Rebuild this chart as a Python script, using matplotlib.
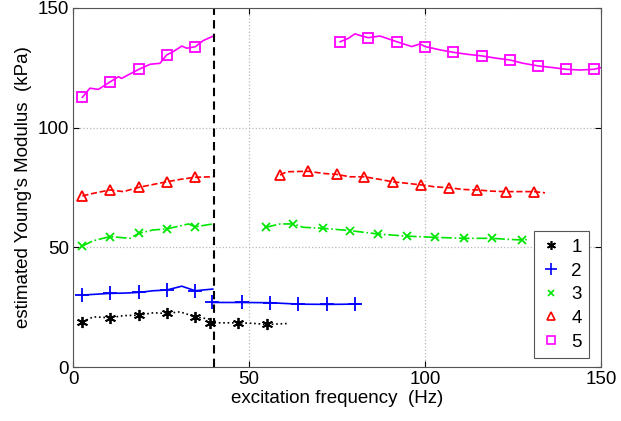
import matplotlib
matplotlib.use('Agg')
import matplotlib.pyplot as plt
from matplotlib.lines import Line2D

plt.rcParams['font.family'] = ['Liberation Sans', 'DejaVu Sans']

# measured modulus vs excitation frequency, two runs each (below / above 40 Hz)
f1a = [2.65, 5.8, 10.5, 14.3, 18.7, 22.8, 26.6, 30.4, 34.7, 39.4]
e1a = [18.9, 21.0, 20.6, 21.5, 21.7, 22.7, 22.4, 23.1, 21.0, 19.9]
m1a = [0, 2, 4, 6, 8]
f1b = [38.9, 43.0, 47.0, 51.0, 55.0, 60.7]
e1b = [18.5, 18.5, 18.5, 18.3, 17.8, 18.2]
m1b = [0, 2, 4]

f2a = [2.65, 10.5, 14.3, 18.7, 22.8, 26.6, 30.9, 34.7, 39.7]
e2a = [30.1, 30.8, 30.9, 31.2, 31.9, 32.2, 33.8, 31.9, 32.6]
m2a = [0, 1, 3, 5, 7]
f2b = [39.4, 47.9, 56.0, 64.0, 72.1, 80.1, 81.5]
e2b = [27.0, 27.0, 26.9, 26.3, 26.2, 26.3, 26.3]
m2b = [0, 1, 2, 3, 4, 5]

f3a = [2.65, 5.8, 10.5, 16.2, 18.7, 22.8, 26.6, 32.8, 34.7, 39.7]
e3a = [50.6, 52.8, 54.5, 53.8, 55.9, 57.3, 57.7, 59.8, 58.6, 59.8]
m3a = [0, 2, 4, 6, 8]
f3b = [54.8, 58.8, 62.6, 65.4, 70.9, 78.7, 86.7, 94.8, 102.8, 111.2, 119.0, 123.2, 127.5, 128.9]
e3b = [58.4, 59.8, 59.8, 58.4, 58.0, 57.0, 55.6, 54.7, 54.2, 53.8, 53.8, 53.4, 53.1, 53.3]
m3b = [0, 2, 4, 5, 6, 7, 8, 9, 10, 12]

f4a = [2.65, 5.8, 10.5, 14.3, 18.7, 22.8, 26.6, 30.4, 34.7, 39.7]
e4a = [71.5, 72.6, 74.0, 73.3, 75.1, 76.3, 77.4, 78.4, 79.3, 79.5]
m4a = [0, 2, 4, 6, 8]
f4b = [58.8, 60.7, 66.8, 71.1, 74.9, 78.7, 82.8, 87.2, 90.8, 94.8, 98.9, 102.8, 106.9, 110.9,
       114.9, 118.9, 122.9, 127.0, 131.0, 134.1]
e4b = [80.2, 81.6, 81.8, 80.9, 80.5, 79.5, 79.5, 78.4, 77.4, 76.8, 76.1, 75.3, 74.9, 74.2,
       74.0, 73.5, 73.3, 73.3, 73.3, 72.8]
m4b = [0, 2, 4, 6, 8, 10, 12, 14, 16, 18]

f5a = [2.65, 4.8, 7.2, 10.5, 12.9, 13.8, 18.7, 21.9, 24.7, 26.6, 28.5, 30.9, 32.3, 34.7, 37.0, 39.9]
e5a = [112.7, 116.5, 116.0, 119.1, 121.3, 120.6, 124.4, 126.5, 126.9, 130.4, 131.8, 134.1,
       133.2, 133.8, 136.4, 138.3]
m5a = [0, 3, 6, 9, 13]
f5b = [75.9, 78.2, 80.1, 82.0, 83.9, 87.2, 92.0, 96.2, 98.6, 100.0, 104.3, 108.0, 111.8, 116.1,
       120.4, 124.1, 127.9, 132.2, 136.4, 140.1, 144.0, 148.0, 150.0]
e5b = [135.9, 137.3, 139.2, 138.3, 137.6, 138.3, 135.9, 133.9, 135.0, 133.9, 132.5, 131.5,
       130.7, 130.0, 129.0, 128.3, 126.9, 125.8, 125.1, 124.4, 124.1, 124.4, 125.1]
m5b = [0, 4, 6, 9, 11, 13, 15, 17, 19, 21]

labels = ['1', '2', '3', '4', '5']
styles = [
    dict(color='k', ls=':', marker=(6, 2, 0), ms=8),
    dict(color='#0000ff', ls='-', marker='+', ms=10),
    dict(color='#00e600', ls='-.', marker='x', ms=6),
    dict(color='#ff0000', ls='--', marker='^', ms=7, mfc='none'),
    dict(color='#ff00ff', ls='-', marker='s', ms=7, mfc='none'),
]
segments = [
    [(f1a, e1a, m1a), (f1b, e1b, m1b)],
    [(f2a, e2a, m2a), (f2b, e2b, m2b)],
    [(f3a, e3a, m3a), (f3b, e3b, m3b)],
    [(f4a, e4a, m4a), (f4b, e4b, m4b)],
    [(f5a, e5a, m5a), (f5b, e5b, m5b)],
]

fig = plt.figure(figsize=(6.21, 4.21), dpi=100)
ax = fig.add_axes([0.1176, 0.128, 0.8502, 0.853])

for segs, st in zip(segments, styles):
    for f, e, m in segs:
        ax.plot(f, e, lw=1.2, mew=1.3, markevery=m, **st)

ax.axvline(40, color='k', ls='--', lw=1.5, dashes=(4, 2.5))

ax.set_xlim(0, 150)
ax.set_ylim(0, 150)
ax.set_xticks([0, 50, 100, 150])
ax.set_yticks([0, 50, 100, 150])
ax.grid(True, color='#b8b8b8', ls=':', lw=0.9)
ax.tick_params(direction='in', top=True, right=True, length=4, labelsize=13.5, pad=3)
for sp in ax.spines.values():
    sp.set_color('#555555')
    sp.set_linewidth(0.8)

ax.set_xlabel('excitation frequency  (Hz)', fontsize=13.5, labelpad=1)
ax.set_ylabel("estimated Young's Modulus  (kPa)", fontsize=13.5, labelpad=4)

handles = [Line2D([], [], ls='none', color=st['color'], marker=st['marker'],
                  ms=st['ms'] * 0.8, mfc=st.get('mfc', st['color']), mew=1.2)
           for st in styles]
leg = ax.legend(handles, labels, loc='lower right', bbox_to_anchor=(0.978, 0.025),
                borderaxespad=0, fontsize=13.5, fancybox=False, framealpha=1,
                edgecolor='#555555', handlelength=1.0, handletextpad=0.6,
                labelspacing=0.35, borderpad=0.4)
leg.get_frame().set_linewidth(0.8)

fig.savefig('out.png', dpi=100)
